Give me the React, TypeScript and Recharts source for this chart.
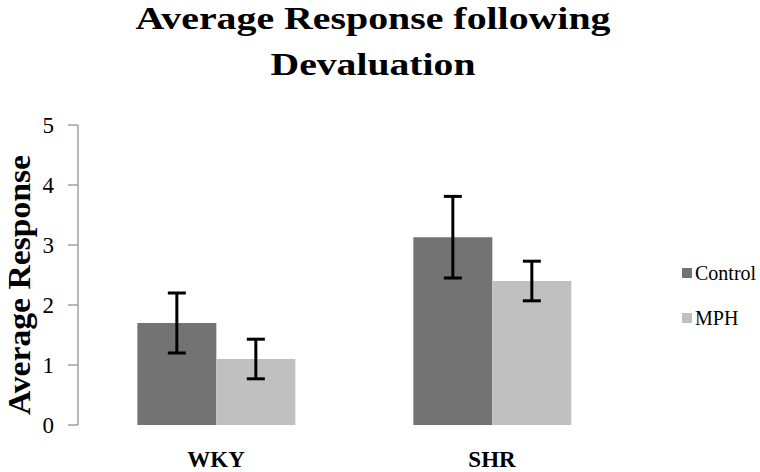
import React from 'react';
import { BarChart, Bar, XAxis, YAxis, ErrorBar, Legend } from 'recharts';

if (typeof document !== 'undefined') {
  document.body.style.margin = '0';
}

const categories = ['WKY', 'SHR'];
const controlValues = [1.7, 3.13];
const controlErrors = [0.5, 0.68];
const mphValues = [1.1, 2.4];
const mphErrors = [0.33, 0.33];
const yTicks = [0, 1, 2, 3, 4, 5];
const titleLines = ['Average Response following', 'Devaluation'];
const yLabel = 'Average Response';

const data = categories.map((c, i) => ({
  group: c,
  Control: controlValues[i],
  controlErr: controlErrors[i],
  MPH: mphValues[i],
  mphErr: mphErrors[i],
}));

const FONT = 'Liberation Serif, Times New Roman, serif';

const LegendContent = (props: any) => {
  const payload = props.payload || [];
  return (
    <div style={{ fontFamily: FONT, fontSize: 20, color: '#000' }}>
      {payload.map((p: any, i: number) => (
        <div
          key={i}
          style={{ display: 'flex', alignItems: 'center', height: 24, marginBottom: 21 }}
        >
          <span
            style={{ display: 'inline-block', width: 10, height: 10, background: p.color, marginRight: 3 }}
          />
          <span style={{ lineHeight: '24px', fontFamily: FONT }}>{p.value}</span>
        </div>
      ))}
    </div>
  );
};

export default function App() {
  return (
    <div style={{ position: 'relative', width: 760, height: 472, background: '#fff', fontFamily: FONT }}>
      <style>{`.recharts-cartesian-axis-tick-value { font-family: ${FONT}; }`}</style>
      <BarChart
        width={760}
        height={472}
        data={data}
        margin={{ top: 125, right: 130, bottom: 0, left: 0 }}
        barCategoryGap="21.5%"
        barGap={0}
      >
        <XAxis
          dataKey="group"
          axisLine={false}
          tickLine={false}
          height={47}
          tickSize={0}
          tickMargin={26}
          tick={{ fontFamily: FONT, fontSize: 23, fontWeight: 'bold', fill: '#000' }}
        />
        <YAxis
          domain={[0, 5]}
          ticks={yTicks}
          width={78}
          tickSize={10}
          tickMargin={14}
          axisLine={{ stroke: '#a0a0a0', strokeWidth: 1.5 }}
          tickLine={{ stroke: '#a0a0a0', strokeWidth: 1.5 }}
          tick={{ fontFamily: FONT, fontSize: 23, fill: '#000' }}
        />
        <Legend
          verticalAlign="middle"
          align="center"
          content={<LegendContent />}
          wrapperStyle={{ top: 261, left: 682, width: 78 }}
        />
        <Bar dataKey="Control" fill="#737373" isAnimationActive={false}>
          <ErrorBar dataKey="controlErr" width={9} stroke="#000" strokeWidth={3} />
        </Bar>
        <Bar dataKey="MPH" fill="#c0c0c0" isAnimationActive={false}>
          <ErrorBar dataKey="mphErr" width={9} stroke="#000" strokeWidth={3} />
        </Bar>
      </BarChart>
      <svg
        width={760}
        height={472}
        style={{ position: 'absolute', left: 0, top: 0, pointerEvents: 'none' }}
      >
        <text
          x={373}
          y={29}
          textAnchor="middle"
          fontFamily={FONT}
          fontWeight="bold"
          fontSize={32}
          fill="#000"
          textLength={475}
          lengthAdjust="spacingAndGlyphs"
        >
          {titleLines[0]}
        </text>
        <text
          x={373}
          y={75}
          textAnchor="middle"
          fontFamily={FONT}
          fontWeight="bold"
          fontSize={32}
          fill="#000"
          textLength={205}
          lengthAdjust="spacingAndGlyphs"
        >
          {titleLines[1]}
        </text>
        <text
          transform="translate(30,285) rotate(-90)"
          textAnchor="middle"
          fontFamily={FONT}
          fontWeight="bold"
          fontSize={32}
          fill="#000"
          textLength={260}
          lengthAdjust="spacingAndGlyphs"
        >
          {yLabel}
        </text>
      </svg>
    </div>
  );
}
